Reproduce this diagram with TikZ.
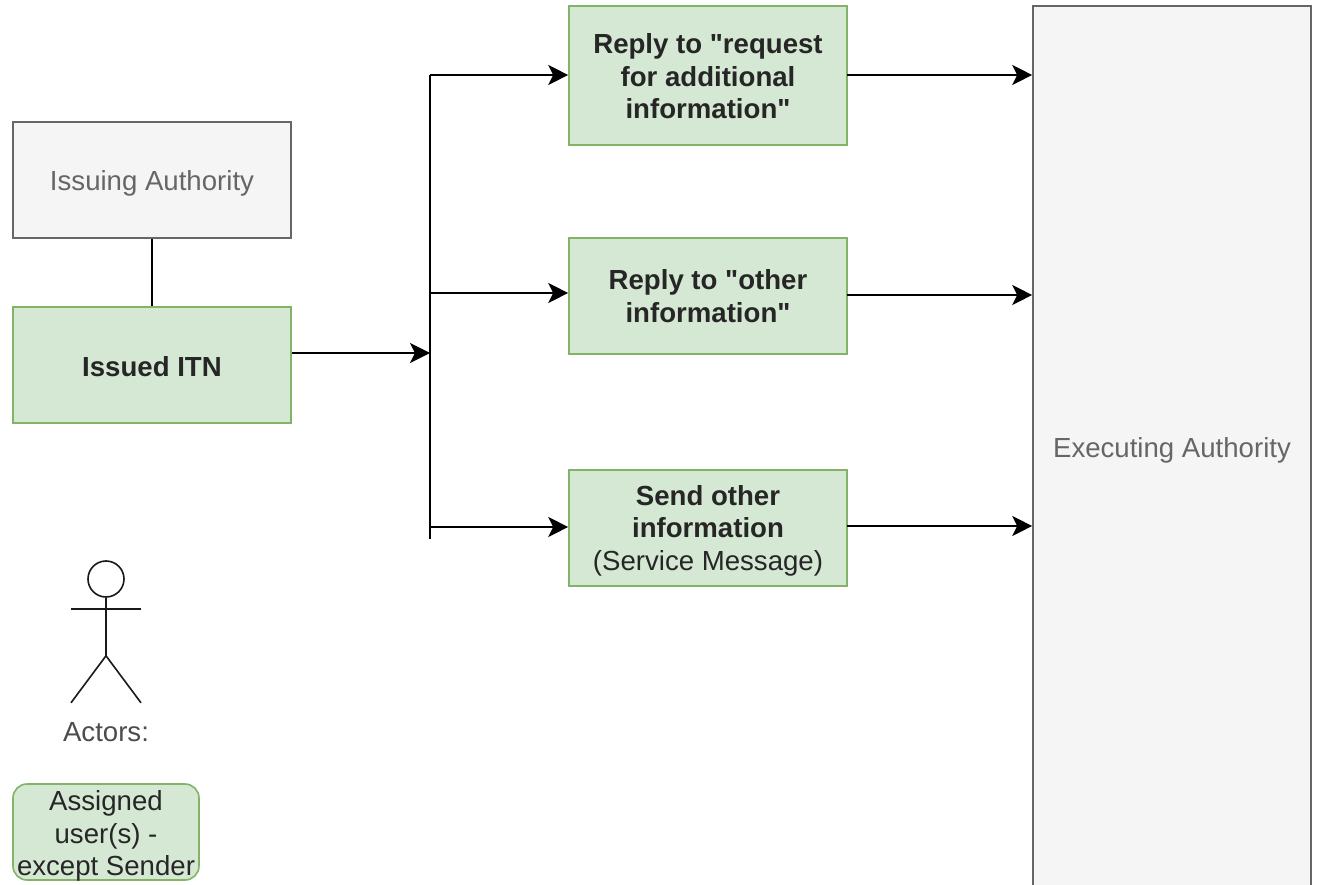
\documentclass[tikz,border=0pt]{standalone}
\usepackage{fontspec}
\setmainfont{Liberation Sans}[Ligatures=TeXOff]
\usetikzlibrary{arrows.meta,positioning,calc}
\newcommand{\lowered}[2]{\raisebox{-#1pt}[\height][\depth]{#2}}
\tikzset{
  itnbox/.style={line width=1.6pt,minimum width=278pt,align=center,inner sep=0pt,
    font=\fontsize{27.6}{32.6}\selectfont},
  stepbox/.style={itnbox,draw={rgb,255:red,130;green,179;blue,102},fill={rgb,255:red,213;green,232;blue,212},text=black!85},
  boldbox/.style={stepbox,font=\fontsize{27.6}{32.6}\selectfont\bfseries},
  authbox/.style={itnbox,draw={rgb,255:red,102;green,102;blue,102},fill={rgb,255:red,245;green,245;blue,245},text={rgb,255:red,102;green,102;blue,102}},
  flow/.style={line width=1.9pt,-{Stealth[length=20pt,width=20pt,inset=5pt]}},
  plain/.style={line width=1.9pt},
  stick/.style={line width=1.6pt,black!90},
}
\begin{document}
\begin{tikzpicture}[x=1pt,y=-1pt]
  \useasboundingbox (0,0) rectangle (1320,885);
  %left column
  \node [authbox,minimum height=116pt] (issuing) at (152,180) {\lowered{3}{Issuing Authority}};
  \node [boldbox,minimum height=116pt] (issued) at (152,365) {\lowered{1.5}{Issued ITN}};
  %middle column
  \node [boldbox,minimum height=139pt] (request) at (708,75.5)
    {\lowered{1}{Reply to "request}\\\lowered{1}{for additional}\\\lowered{1}{information"}};
  \node [boldbox,minimum height=116pt] (other) at (708,296)
    {Reply to "other\\information"};
  \node [stepbox,minimum height=116pt] (send) at (708,527.8)
    {\lowered{3}{\textbf{Send other}}\\\lowered{3}{\textbf{information}}\\\lowered{3}{(Service Message)}};
  %right column, runs past the lower edge of the page
  \node [authbox,minimum height=882pt] (executing) at (1172,447) {\lowered{3}{Executing Authority}};
  %actor
  \node [draw,stick,circle,minimum size=36pt,inner sep=0pt] (head) at (106,579) {};
  \coordinate (neck) at ($(head.south)+(0,11)$);
  \coordinate (hip) at ($(head.south)+(0,58)$);
  \coordinate (handl) at ($(neck)+(-35,0)$);
  \coordinate (handr) at ($(neck)+(35,0)$);
  \coordinate (footl) at ($(hip)+(-35,47)$);
  \coordinate (footr) at ($(hip)+(35,47)$);
  \draw [stick] (head.south) -- (hip);
  \draw [stick] (handl) -- (handr);
  \draw [stick] (footl) -- (hip) -- (footr);
  \node [font=\fontsize{27.6}{32.6}\selectfont,text=black!70] (actors) at (106,732) {Actors:};
  \node [stepbox,rounded corners=14pt,minimum width=186pt,minimum height=96pt] (assigned) at (106,832)
    {\lowered{4}{Assigned}\\\lowered{4}{user(s) -}\\\lowered{4}{except Sender}};
  %split line
  \coordinate (railtop) at (430,75);
  \coordinate (railin) at (430,353);
  \coordinate (railmid) at (430,293);
  \coordinate (raillow) at (430,527);
  \coordinate (railend) at (430,539);
  \draw [plain] (railtop) -- (railend);
  \draw [plain] (issuing) -- (issued);
  \draw [flow] (railin -| issued.east) -- (railin);
  \draw [flow] (railtop) -- (railtop -| request.west);
  \draw [flow] (railmid) -- (railmid -| other.west);
  \draw [flow] (raillow) -- (raillow -| send.west);
  %into the executing authority
  \coordinate (outtop) at (847,75);
  \coordinate (outmid) at (847,295);
  \coordinate (outlow) at (847,526);
  \draw [flow] (outtop) -- (outtop -| executing.west);
  \draw [flow] (outmid) -- (outmid -| executing.west);
  \draw [flow] (outlow) -- (outlow -| executing.west);
\end{tikzpicture}
\end{document}
